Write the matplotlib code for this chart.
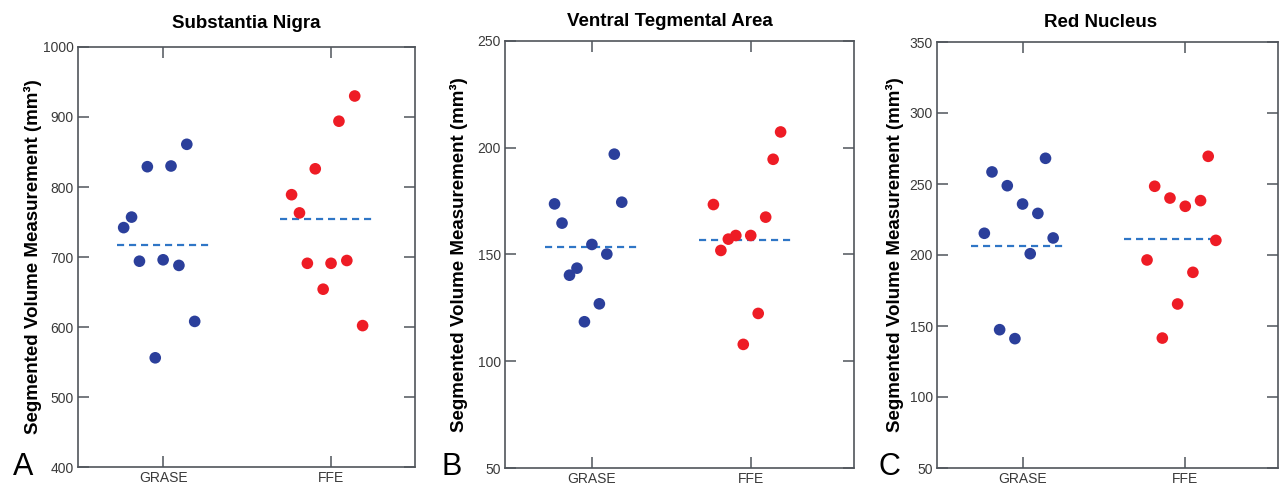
import numpy as np
import matplotlib
matplotlib.use('Agg')
import matplotlib.pyplot as plt

plt.rcParams['font.family'] = ['Liberation Sans', 'DejaVu Sans']

# ── Data (ordered left → right within a group) ──
groups = ['GRASE', 'FFE']

titles = ['Substantia Nigra', 'Ventral Tegmental Area', 'Red Nucleus']
panel_letters = ['A', 'B', 'C']

sn_grase = [742, 757, 694, 829, 556, 696, 830, 688, 861, 608]
sn_ffe = [789, 763, 691, 826, 654, 691, 894, 695, 930, 602]
sn_means = [717, 754]

vta_grase = [173.7, 164.7, 140.3, 143.6, 118.5, 154.7, 126.9, 150.2, 197.0, 174.5]
vta_ffe = [173.4, 151.9, 157.2, 158.9, 107.9, 158.9, 122.4, 167.5, 194.6, 207.4]
vta_means = [153.5, 157.0]

rn_grase = [215.3, 258.5, 147.4, 248.8, 141.1, 235.9, 200.9, 229.3, 268.1, 212.0]
rn_ffe = [196.5, 248.4, 141.5, 240.1, 165.5, 234.3, 187.8, 238.3, 269.5, 210.3]
rn_means = [206, 211]

y_ranges = [(400, 1000), (50, 250), (50, 350)]
y_steps = [100, 50, 50]

# ── Layout / style ─────────────────────────────────────────────────────────
BLUE = '#2b3f9b'
RED = '#ee1c25'
MEAN_CLR = '#2f76c6'
SPINE = '#50555b'
TICKTXT = '#3a3a3a'

W, H = 1284, 486
axes_px = [(78, 47, 415, 467), (505, 41, 854, 468), (937, 42, 1278, 468)]
xlims = [(0.493, 2.50), (0.453, 2.65), (0.474, 2.57)]
jitter_step = 0.047
mean_spans = [[(-0.274, 0.298), (-0.304, 0.268)],
              [(-0.296, 0.308), (-0.327, 0.270)],
              [(-0.314, 0.271), (-0.376, 0.216)]]
letter_x = [13, 442, 878]
ylabel_x = [-0.108, -0.105, -0.098]
title_pad = [14, 11, 11]
title_x = [0.498, 0.471, 0.481]

panels = [(sn_grase, sn_ffe, sn_means),
          (vta_grase, vta_ffe, vta_means),
          (rn_grase, rn_ffe, rn_means)]

fig = plt.figure(figsize=(W / 100, H / 100), dpi=100, facecolor='white')

for i, (g_vals, f_vals, means) in enumerate(panels):
    x0, y0, x1, y1 = axes_px[i]
    ax = fig.add_axes([x0 / W, 1 - y1 / H, (x1 - x0) / W, (y1 - y0) / H])

    for gi, (vals, clr) in enumerate([(g_vals, BLUE), (f_vals, RED)]):
        pos = gi + 1
        offs = (np.arange(len(vals)) - 5) * jitter_step
        ax.scatter(pos + offs, vals, s=70, color=clr, edgecolors='none', zorder=3)
        lo, hi = mean_spans[i][gi]
        ax.plot([pos + lo, pos + hi], [means[gi], means[gi]], color=MEAN_CLR,
                lw=1.6, dashes=(3.2, 2.2), zorder=2)

    ymin, ymax = y_ranges[i]
    ax.set_ylim(ymin, ymax)
    ax.set_yticks(np.arange(ymin, ymax + 1, y_steps[i]))
    ax.set_xlim(*xlims[i])
    ax.set_xticks([1, 2])
    ax.set_xticklabels(groups)

    ax.tick_params(direction='in', length=8, width=1.1, color=SPINE,
                   top=True, right=True, labelsize=10, labelcolor=TICKTXT,
                   pad=3)
    for sp in ax.spines.values():
        sp.set_color(SPINE)
        sp.set_linewidth(1.2)

    ax.set_title(titles[i], fontsize=13.5, fontweight='bold', pad=title_pad[i],
                 x=title_x[i])
    ax.set_ylabel('Segmented Volume Measurement (mm³)', fontsize=13.5,
                  fontweight='bold')
    ax.yaxis.set_label_coords(ylabel_x[i], 0.5)

    fig.text(letter_x[i] / W, 1 - 475 / H, panel_letters[i], fontsize=22,
             ha='left', va='baseline')

fig.savefig('out.png', dpi=100, facecolor='white')
